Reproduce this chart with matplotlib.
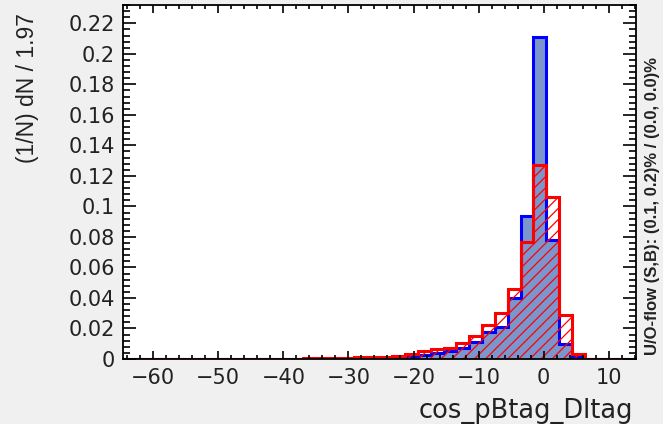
import numpy as np
import matplotlib
matplotlib.use('Agg')
import matplotlib.pyplot as plt
from matplotlib.ticker import MultipleLocator, FuncFormatter

# binning: 40 bins, width 1.97
x_lo = -64.625
bin_width = 1.97
n_bins = 40
edges = x_lo + bin_width * np.arange(n_bins + 1)

# signal (blue, filled) and background (red, hatched)
sig = [0, 0, 0, 0, 0, 0, 0, 0, 0, 0,
       0, 0, 0.0001, 0.0001, 0.0002, 0.0002, 0.0003, 0.0003, 0.0004, 0.0006,
       0.0008, 0.001, 0.0018, 0.0028, 0.0038, 0.005, 0.0075, 0.011, 0.018, 0.021,
       0.040, 0.0935, 0.211, 0.078, 0.010, 0.0015, 0, 0, 0, 0]
bkg = [0, 0, 0, 0, 0, 0, 0, 0, 0, 0,
       0, 0, 0.0002, 0.0003, 0.0004, 0.0004, 0.0008, 0.0008, 0.001, 0.001,
       0.0015, 0.002, 0.0035, 0.005, 0.0065, 0.007, 0.0105, 0.015, 0.022, 0.030,
       0.046, 0.077, 0.127, 0.106, 0.029, 0.003, 0, 0, 0, 0]

y_max = 0.232
x_ticks = [-60, -50, -40, -30, -20, -10, 0, 10]

plt.rcParams['hatch.linewidth'] = 0.9

W, H = 663, 424
fig = plt.figure(figsize=(W / 100, H / 100), dpi=100, facecolor='#f0f0f0')
ax = fig.add_axes([123 / W, 1 - 359 / H, 513 / W, 354 / H])
ax.set_facecolor('white')

ax.stairs(sig, edges, fill=True, facecolor='#7a96cd', edgecolor='none', lw=0)
ax.stairs(sig, edges, color='#0000ff', lw=2.2)
ax.stairs(bkg, edges, fill=True, facecolor='none', edgecolor='#ff0000', hatch='///', lw=0)
ax.stairs(bkg, edges, color='#ff0000', lw=2.2)

ax.set_xlim(edges[0], edges[-1])
ax.set_ylim(0, y_max)

ax.set_xticks(x_ticks)
ax.xaxis.set_minor_locator(MultipleLocator(2))
ax.yaxis.set_major_locator(MultipleLocator(0.02))
ax.yaxis.set_minor_locator(MultipleLocator(0.004))
ax.yaxis.set_major_formatter(FuncFormatter(lambda v, p: '%g' % round(v, 3)))

ax.tick_params(which='both', direction='in', top=True, right=True, colors='black', width=1.2)
ax.tick_params(axis='x', which='major', length=6, pad=6.5)
ax.tick_params(axis='x', which='minor', length=3)
ax.tick_params(axis='y', which='major', length=9.5, pad=6)
ax.tick_params(axis='y', which='minor', length=4.8)
for lab in ax.get_xticklabels() + ax.get_yticklabels():
    lab.set_family('DejaVu Sans')
    lab.set_fontsize(15)
    lab.set_color('#222222')
for sp in ax.spines.values():
    sp.set_linewidth(1.3)

fig.text(28 / W, 1 - 13 / H, '(1/N) dN / 1.97', rotation=90, ha='center', va='top',
         family='Liberation Sans', fontsize=16.5, color='#222222')
fig.text(633 / W, 1 - 418 / H, 'cos_pBtag_Dltag', ha='right', va='baseline',
         family='DejaVu Sans', fontsize=18.5, color='#222222')
fig.text(653 / W, 1 - 57 / H, 'U/O-flow (S,B): (0.1, 0.2)% / (0.0, 0.0)%', rotation=90,
         ha='center', va='top', family='Liberation Sans', fontweight='bold',
         fontsize=12, color='#222222')

fig.savefig('out.png', dpi=100, facecolor=fig.get_facecolor())
